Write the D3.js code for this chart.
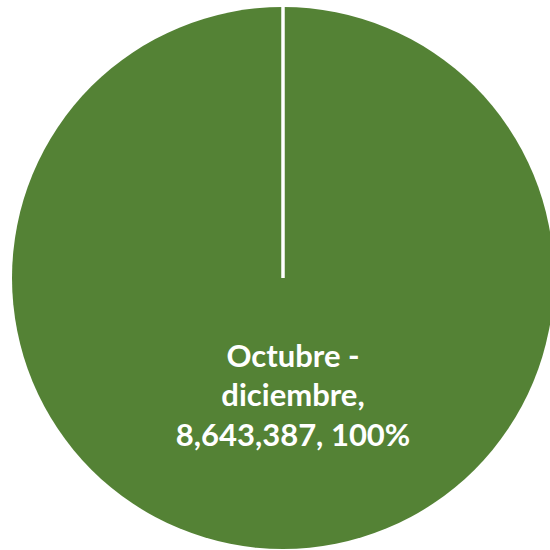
<!DOCTYPE html>
<html><head><meta charset="utf-8">
<script src="https://cdn.jsdelivr.net/npm/d3@7"></script>
<style>html,body{margin:0;padding:0;background:#fff;}svg{display:block;}</style>
</head><body>
<script>
const categories = ["Octubre - diciembre"];
const values = [8643387];
const labelLines = [["Octubre -", "diciembre,", "8,643,387, 100%"]];
const colors = ["#548235"];

const W = 550, H = 550;
const cx = 283, cy = 278, R = 271;
const svg = d3.select("body").append("svg").attr("width", W).attr("height", H);
const g = svg.append("g").attr("transform", `translate(${cx},${cy})`);

const pie = d3.pie().sort(null).value(d => d);
const arcs = pie(values);
const arc = d3.arc().innerRadius(0).outerRadius(R);
const labelArc = d3.arc().innerRadius(R * 0.85).outerRadius(R * 0.85);

g.selectAll("path.slice").data(arcs).enter().append("path")
  .attr("class", "slice")
  .attr("d", arc)
  .attr("fill", (d, i) => colors[i]);

// slice boundary edges (white separators)
const edge = d3.lineRadial().angle(d => d[0]).radius(d => d[1]);
g.selectAll("path.edge").data(arcs).enter().append("path")
  .attr("class", "edge")
  .attr("d", d => edge([[d.startAngle, 0], [d.startAngle, R + 2]]))
  .attr("stroke", "#fff").attr("stroke-width", 3.5).attr("fill", "none");

const lbl = g.selectAll("text.lbl").data(arcs).enter().append("text")
  .attr("class", "lbl")
  .attr("transform", d => { const c = labelArc.centroid(d); return `translate(${c[0] + 10},${c[1] - 102})`; })
  .attr("text-anchor", "middle")
  .attr("fill", "#fff")
  .attr("font-family", "Lato, 'Open Sans', sans-serif")
  .attr("font-weight", "bold")
  .attr("font-size", 31);
lbl.each(function(d, i) {
  const t = d3.select(this);
  labelLines[i].forEach((s, k) => {
    t.append("tspan").attr("x", 0).attr("y", (k - 1) * 39.5).text(s);
  });
});
</script>
</body></html>
